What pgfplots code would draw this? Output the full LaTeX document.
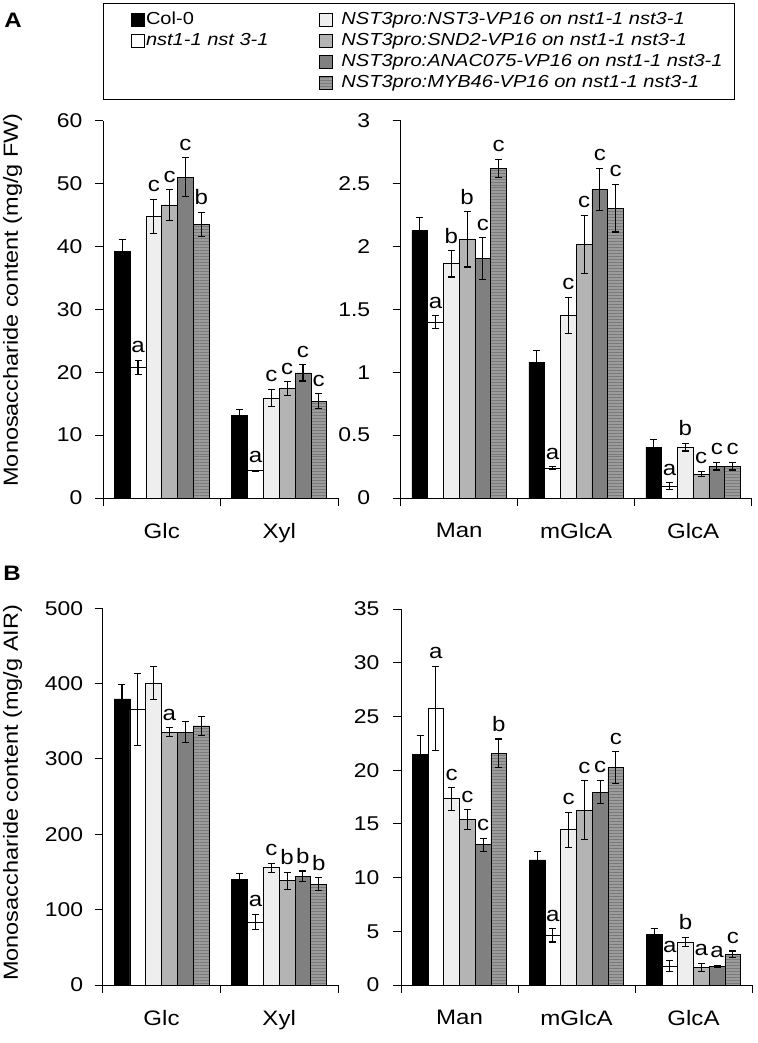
\documentclass[border=0pt]{standalone}
\usepackage{fontspec}
\setmainfont{Liberation Sans}[FakeStretch=1.15]
\usepackage{pgfplots}
\usepackage{pgfplotstable}
\pgfplotsset{compat=1.18}
\usetikzlibrary{patterns}

\definecolor{cNST}{HTML}{EEEEEE}
\definecolor{cSND}{HTML}{B4B4B4}
\definecolor{cANAC}{HTML}{808080}
\definecolor{cMYB}{HTML}{9C9C9C}
\definecolor{cMYBl}{HTML}{7A7A7A}

% x: category centre; v = mean, e = error, l = letter
\pgfplotstableread{
x v1 e1 v2 e2 l2 v3 e3 l3 v4 e4 l4 v5 e5 l5 v6 e6 l6
0.5 39.2 1.9 20.8 1.1 a 44.8 2.7 c 46.6 2.4 c 51.0 3.1 c 43.5 1.9 b
1.5 13.1 0.95 4.34 0.1 a 15.9 1.4 c 17.4 1.1 c 19.9 1.3 c 15.4 1.2 c
}\tabAL
\pgfplotstableread{
x v1 e1 v2 e2 l2 v3 e3 l3 v4 e4 l4 v5 e5 l5 v6 e6 l6
0.5 2.126 0.105 1.40 0.05 a 1.862 0.105 b 2.057 0.22 b 1.904 0.165 c 2.62 0.075 c
1.5 1.08 0.09 0.238 0.01 a 1.452 0.145 c 2.017 0.23 c 2.453 0.17 c 2.305 0.19 c
2.5 0.404 0.06 0.095 0.027 a 0.404 0.03 b 0.19 0.022 c 0.253 0.03 c 0.253 0.03 c
}\tabAR
\pgfplotstableread{
x v1 e1 v2 e2 l2 v3 e3 l3 v4 e4 l4 v5 e5 l5 v6 e6 l6
0.5 379.8 19.5 365.6 47.7 {} 401 21.7 {} 335.8 5.5 a 335.8 14 {} 343.8 12.2 {}
1.5 139.8 8.4 83.4 10.2 a 155.7 6 c 138.4 11.5 b 144.6 6.7 b 134 8.4 b
}\tabBL
\pgfplotstableread{
x v1 e1 v2 e2 l2 v3 e3 l3 v4 e4 l4 v5 e5 l5 v6 e6 l6
0.5 21.48 1.72 25.76 3.9 a 17.33 1.05 c 15.39 0.94 c 13.05 0.62 c 21.57 1.33 b
1.5 11.65 0.78 4.62 0.62 a 14.46 1.64 c 16.27 2.73 c 17.95 1.09 c 20.23 1.47 c
2.5 4.68 0.62 1.75 0.53 a 4.0 0.44 b 1.65 0.37 a 1.75 0.1 a 2.87 0.3 c
}\tabBR

\pgfplotsset{
  s1/.style={fill=black, draw=black, line width=0.7bp},
  s2/.style={fill=white, draw=black, line width=0.7bp},
  s3/.style={fill=cNST, draw=black, line width=0.7bp},
  s4/.style={fill=cSND, draw=black, line width=0.7bp},
  s5/.style={fill=cANAC, draw=black, line width=0.7bp},
  s6/.style={fill=cMYB, draw=black, line width=0.7bp, postaction={pattern=horizontal lines, pattern color=cMYBl}},
  limgA/.style={legend image code/.code={\path (0bp,0bp) (30bp,0bp);
      \draw[##1, line width=0.6bp] (17bp,-6.5bp) rectangle (30bp,6.5bp);}},
  limgB/.style={legend image code/.code={\path (0bp,0bp) (20bp,0bp);
      \draw[##1, line width=0.6bp] (0bp,-6.5bp) rectangle (13bp,6.5bp);}},
  lett/.style={nodes near coords={\pgfplotspointmeta}, point meta=explicit symbolic,
    visualization depends on={\thisrow{#1}\as\myerr},
    every node near coord/.append style={shift={(axis direction cs:0,\myerr)}, anchor=south,
      inner sep=0pt, yshift=7bp, font=\fontsize{21}{21}\selectfont, text=black}},
  panel/.style={scale only axis, axis x line=bottom, axis y line=left,
    axis line style={-, line width=1bp, black},
    ymin=0, xmin=0, enlargelimits=false, clip=false,
    tick align=outside, major tick length=8bp, minor tick length=8bp,
    tick style={black, line width=1bp},
    major x tick style={draw=none},
    minor x tick style={black, line width=1bp},
    ybar=0pt, bar width=0.1345,
    /pgf/number format/assume math mode=true,
    ticklabel style={font=\fontsize{20}{20}\selectfont},
    xticklabel style={font=\fontsize{21}{21}\selectfont, yshift=-14bp},
    ylabel style={font=\fontsize{20.5}{20.5}\selectfont},
    /pgfplots/error bars/error bar style={line width=1.1bp, black, solid},
    /pgfplots/error bars/error mark options={rotate=90, line width=1.1bp, black, solid, mark size=3.5bp},
  },
}

\newcommand{\bars}[1]{%
  \addplot[s1, error bars/.cd, y dir=plus, y explicit] table[x=x, y=v1, y error=e1] {#1};
  \addplot[s2, lett=e2, error bars/.cd, y dir=both, y explicit] table[x=x, y=v2, y error=e2, meta=l2] {#1};
  \addplot[s3, lett=e3, error bars/.cd, y dir=both, y explicit] table[x=x, y=v3, y error=e3, meta=l3] {#1};
  \addplot[s4, lett=e4, error bars/.cd, y dir=both, y explicit] table[x=x, y=v4, y error=e4, meta=l4] {#1};
  \addplot[s5, lett=e5, error bars/.cd, y dir=both, y explicit] table[x=x, y=v5, y error=e5, meta=l5] {#1};
  \addplot[s6, lett=e6, error bars/.cd, y dir=both, y explicit] table[x=x, y=v6, y error=e6, meta=l6] {#1};
}

\begin{document}
\begin{tikzpicture}
\useasboundingbox (0bp,0bp) rectangle (758bp,-1043bp);

\node[font=\bfseries\fontsize{21}{21}\selectfont] at (13bp,-20bp) {A};
\node[font=\bfseries\fontsize{21}{21}\selectfont] at (12bp,-573bp) {B};

% legend
\begin{axis}[hide axis, scale only axis, at={(103.3bp,-99.7bp)}, anchor=south west,
  width=638bp, height=97bp, xmin=0, xmax=1, ymin=0, ymax=1,
  legend columns=2, legend cell align=left,
  legend style={at={(0,1)}, anchor=north west, draw=black, line width=1bp,
    font=\fontsize{17.5}{21}\selectfont, inner xsep=10bp, inner ysep=6bp,
    nodes={inner xsep=1.5bp, inner ysep=2bp, text height=13bp, text depth=4bp},
    /tikz/every even column/.append style={column sep=49.2bp}}]
  \addlegendimage{s1, limgA}\addlegendentry{Col-0}
  \addlegendimage{s3, limgB}\addlegendentry{\itshape NST3pro:NST3-VP16 on nst1-1 nst3-1}
  \addlegendimage{s2, limgA}\addlegendentry{\itshape nst1-1 nst 3-1}
  \addlegendimage{s4, limgB}\addlegendentry{\itshape NST3pro:SND2-VP16 on nst1-1 nst3-1}
  \addlegendimage{empty legend}\addlegendentry{}
  \addlegendimage{s5, limgB}\addlegendentry{\itshape NST3pro:ANAC075-VP16 on nst1-1 nst3-1}
  \addlegendimage{empty legend}\addlegendentry{}
  \addlegendimage{s6, limgB}\addlegendentry{\itshape NST3pro:MYB46-VP16 on nst1-1 nst3-1}
\end{axis}

% Panel A left
\begin{axis}[panel, at={(103bp,-498bp)}, anchor=south west, width=235bp, height=377.3bp,
  xmax=2, ymax=60, ytick distance=10,
  xtick={0.5,1.5}, xticklabels={Glc,Xyl}, minor xtick={0,1,2},
  ylabel={Monosaccharide content (mg/g FW)},
  ylabel style={at={(axis description cs:-0.385,0.525)}, anchor=center},
  yticklabel style={xshift=-9bp}]
  \bars{\tabAL}
\end{axis}

% Panel A right
\begin{axis}[panel, at={(400.7bp,-498bp)}, anchor=south west, width=351bp, height=377.3bp,
  xmax=3, ymax=3, ytick distance=0.5,
  xtick={0.5,1.5,2.5}, xticklabels={Man,mGlcA,GlcA}, minor xtick={0,1,2,3},
  yticklabel style={xshift=-19bp}]
  \bars{\tabAR}
\end{axis}

% Panel B left
\begin{axis}[panel, at={(102.7bp,-985bp)}, anchor=south west, width=235.3bp, height=376.7bp,
  xmax=2, ymax=500, ytick distance=100,
  xtick={0.5,1.5}, xticklabels={Glc,Xyl}, minor xtick={0,1,2},
  ylabel={Monosaccharide content (mg/g AIR)},
  ylabel style={at={(axis description cs:-0.383,0.51)}, anchor=center},
  yticklabel style={xshift=-8bp}]
  \bars{\tabBL}
\end{axis}

% Panel B right
\begin{axis}[panel, at={(401bp,-985bp)}, anchor=south west, width=351bp, height=376bp,
  xmax=3, ymax=35, ytick distance=5,
  xtick={0.5,1.5,2.5}, xticklabels={Man,mGlcA,GlcA}, minor xtick={0,1,2,3},
  yticklabel style={xshift=-10bp}]
  \bars{\tabBR}
\end{axis}
\end{tikzpicture}
\end{document}
